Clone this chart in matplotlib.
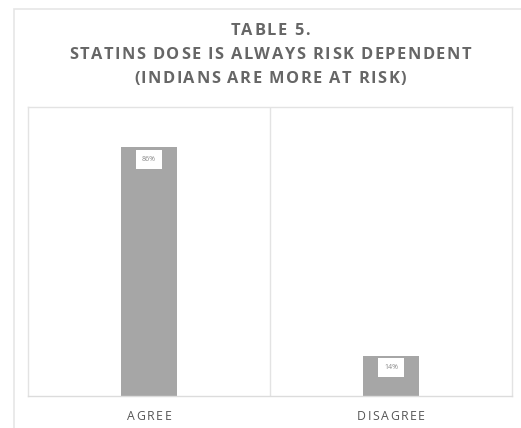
import matplotlib
matplotlib.use("Agg")
import matplotlib.pyplot as plt
from matplotlib.patches import Rectangle
from matplotlib.font_manager import FontProperties, findfont, get_font

categories = ["AGREE", "DISAGREE"]
values = [86, 14]
value_labels = ["86%", "14%"]
title_lines = ["TABLE 5.", "STATINS DOSE IS ALWAYS RISK DEPENDENT", "(INDIANS ARE MORE AT RISK)"]

plt.rcParams["font.family"] = ["Open Sans", "DejaVu Sans"]

DPI = 100
W, H = 521, 428
fig = plt.figure(figsize=(W / DPI, H / DPI), dpi=DPI)
fig.patch.set_facecolor("white")


def advances(s, prop):
    font = get_font(findfont(prop))
    font.set_size(prop.get_size_in_points(), DPI)
    return [font.load_char(ord(ch)).linearHoriAdvance / 65536 for ch in s]


def tracked_text(xc, yc, s, size, weight, color, track):
    """Draw letter-spaced text centred at pixel (xc, yc) from the top-left."""
    prop = FontProperties(family=["Open Sans", "DejaVu Sans"], size=size, weight=weight)
    adv = advances(s, prop)
    total = sum(adv) + track * (len(s) - 1)
    x = xc - total / 2
    for ch, a in zip(s, adv):
        if ch != " ":
            fig.text(x / W, 1 - yc / H, ch, ha="left", va="center",
                     fontproperties=prop, color=color)
        x += a + track


# light outer frame
fig.add_artist(Rectangle((14 / W, -0.05), 1.2, 1.05 - 9 / H,
                         transform=fig.transFigure, fill=False,
                         edgecolor="#e6e6e6", linewidth=1.2))

ax = fig.add_axes([28 / W, 1 - 396 / H, (512 - 28) / W, (396 - 107) / H])
x = list(range(len(categories)))
bars = ax.bar(x, values, width=0.23, color="#a6a6a6", zorder=2)
ax.set_xlim(-0.5, len(categories) - 0.5)
ax.set_ylim(0, 100)

for b, lab in zip(bars, value_labels):
    ax.annotate(lab, (b.get_x() + b.get_width() / 2, b.get_height()),
                xytext=(0, -8.5), textcoords="offset points",
                ha="center", va="center", fontsize=5, color="#8a8a8a",
                bbox=dict(boxstyle="square,pad=0.9", fc="white", ec="none"),
                zorder=3)

# category separator
ax.axvline(0.5, color="#e3e3e3", linewidth=1.0, zorder=1)

for s in ["top", "right", "left"]:
    ax.spines[s].set_color("#e3e3e3")
    ax.spines[s].set_linewidth(1.0)
ax.spines["bottom"].set_color("#dcdcdc")
ax.spines["bottom"].set_linewidth(1.0)

ax.set_yticks([])
ax.set_xticks(x)
ax.set_xticklabels([])
ax.tick_params(axis="x", length=0)

# category labels, letter-spaced under each bar
for xi, cat in zip(x, categories):
    px = ax.transData.transform((xi, 0))[0]
    tracked_text(px, 417, cat, 8.8, "normal", "#555555", 1.6)

for line, y in zip(title_lines, [31, 55, 79]):
    tracked_text(270, y, line, 11.8, "bold", "#666666", 1.5)

fig.savefig("out.png", dpi=DPI, facecolor="white")
